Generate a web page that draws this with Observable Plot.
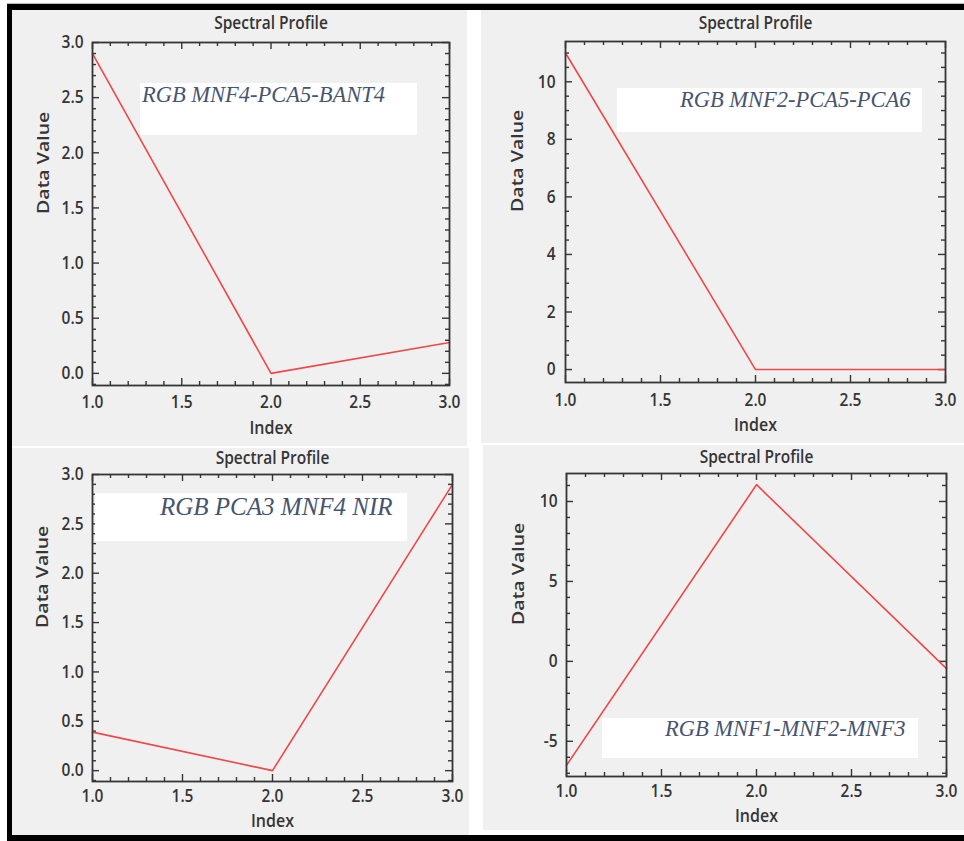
<!DOCTYPE html>
<html>
<head>
<meta charset="utf-8">
<script src="https://cdn.jsdelivr.net/npm/d3@7"></script>
<script src="https://cdn.jsdelivr.net/npm/@observablehq/plot@0.6"></script>
<style>
  html, body { margin: 0; padding: 0; background: #fff; }
  #page { position: relative; width: 964px; height: 841px; background: #fff; overflow: hidden; }
  .bar { position: absolute; background: #000; }
  .anno { position: absolute; background: #fff; }
  .anno span { position: absolute; white-space: nowrap; font-family: "Liberation Serif", "Times New Roman", serif;
               font-style: italic; line-height: 1; color: #46546f; }
</style>
</head>
<body>
<div id="page"></div>
<script>
// ---------- data ----------
const bandIndex = [1, 2, 3];
const profileMNF4_PCA5_BANT4 = [2.9, 0.0, 0.28];
const profileMNF2_PCA5_PCA6 = [11.0, 0.0, 0.0];
const profilePCA3_MNF4_NIR = [0.39, 0.0, 2.9];
const profileMNF1_MNF2_MNF3 = [-6.5, 11.05, -0.45];

const annotationLabels = ["RGB MNF4-PCA5-BANT4", "RGB MNF2-PCA5-PCA6", "RGB PCA3 MNF4 NIR", "RGB MNF1-MNF2-MNF3"];
const chartTitle = "Spectral Profile";
const xAxisLabel = "Index";
const yAxisLabel = "Data Value";

const xTicks = [1.0, 1.5, 2.0, 2.5, 3.0];
const yTicksFraction = [0.0, 0.5, 1.0, 1.5, 2.0, 2.5, 3.0];
const yTicksMNF2 = [0, 2, 4, 6, 8, 10];
const yTicksMNF1 = [-5, 0, 5, 10];

// ---------- layout ----------
const panels = [
  {values: profileMNF4_PCA5_BANT4, yDomain: [-0.11, 3.0], yTicks: yTicksFraction, yMinorStep: 0.1, yFmt: d => d.toFixed(1),
   left: 12, top: 10, width: 455, height: 436, ml: 80, mr: 18, mt: 32, mb: 61,
   titleDy: -19, xPad: 10, indexDy: 43, dvDx: -49, yPad: 9,
   box: {x: 140, y: 83, w: 277, h: 52, tx: 2, base: 103, fs: 22.5}},
  {values: profileMNF2_PCA5_PCA6, yDomain: [-0.45, 11.4], yTicks: yTicksMNF2, yMinorStep: 0.5, yFmt: d => d.toFixed(0),
   left: 481, top: 10, width: 483, height: 433, ml: 84, mr: 19, mt: 31, mb: 61,
   titleDy: -18, xPad: 11, indexDy: 43, dvDx: -48, yPad: 10,
   box: {x: 617, y: 88, w: 305, h: 44, tx: 63, base: 108, fs: 22.5}},
  {values: profilePCA3_MNF4_NIR, yDomain: [-0.11, 3.0], yTicks: yTicksFraction, yMinorStep: 0.1, yFmt: d => d.toFixed(1),
   left: 12, top: 448, width: 457, height: 387, ml: 80, mr: 17, mt: 26, mb: 54,
   titleDy: -16, xPad: 8, indexDy: 40, dvDx: -50, yPad: 9,
   box: {x: 95, y: 493, w: 312, h: 48, tx: 65, base: 515, fs: 25}},
  {values: profileMNF1_MNF2_MNF3, yDomain: [-7.2, 11.75], yTicks: yTicksMNF1, yMinorStep: 1, yFmt: d => d.toFixed(0),
   left: 483, top: 445, width: 481, height: 385, ml: 83, mr: 18, mt: 28, mb: 54,
   titleDy: -16, xPad: 8, indexDy: 40, dvDx: -48, yPad: 9,
   box: {x: 602, y: 718, w: 316, h: 40, tx: 63, base: 737, fs: 22.5}}
];

const INK = "#353535";
const MAJOR = 7, MINOR = 4;
const STRETCH = 1.15; // the source screenshot is stretched vertically

function minorTicks(domain, step, majors) {
  const lo = Math.ceil(domain[0] / step - 1e-9), hi = Math.floor(domain[1] / step + 1e-9);
  return d3.range(lo, hi + 1).map(k => +(k * step).toFixed(6))
    .filter(v => !majors.some(m => Math.abs(m - v) < 1e-9));
}

function stretchText(svg, k) {
  svg.querySelectorAll("text").forEach(t => {
    let tr = t.getAttribute("transform");
    if (!tr) {
      const x = +(t.getAttribute("x") || 0), y = +(t.getAttribute("y") || 0);
      t.removeAttribute("x"); t.removeAttribute("y");
      tr = `translate(${x},${y})`;
    }
    const rotated = /rotate\(\s*-?90/.test(tr);
    t.setAttribute("transform", tr + (rotated ? ` scale(${k},1)` : ` scale(1,${k})`));
  });
}

function makePanel(p) {
  const data = bandIndex.map((x, i) => ({index: x, value: p.values[i]}));
  const innerW = p.width - p.ml - p.mr;
  const innerH = p.height - p.mt - p.mb;
  const xDomain = [1, 3];
  const xMinor = minorTicks(xDomain, 0.1, xTicks);
  const yMajor = p.yTicks.filter(v => v >= p.yDomain[0] && v <= p.yDomain[1]);
  const yMinor = minorTicks(p.yDomain, p.yMinorStep, yMajor);
  const tickStyle = {stroke: INK, strokeWidth: 1.4};
  const svg = Plot.plot({
    width: p.width, height: p.height,
    marginLeft: p.ml, marginRight: p.mr, marginTop: p.mt, marginBottom: p.mb,
    style: {background: "#f0f0f0", fontFamily: "'Open Sans', sans-serif", fontSize: "15.5px", fontWeight: 600, color: INK, overflow: "visible"},
    x: {domain: xDomain},
    y: {domain: p.yDomain},
    marks: [
      // inward ticks on all four sides (IDL/ENVI style)
      Plot.tickY(yMajor, {y: d => d, insetRight: innerW - MAJOR, ...tickStyle}),
      Plot.tickY(yMinor, {y: d => d, insetRight: innerW - MINOR, ...tickStyle}),
      Plot.tickY(yMajor, {y: d => d, insetLeft: innerW - MAJOR, ...tickStyle}),
      Plot.tickY(yMinor, {y: d => d, insetLeft: innerW - MINOR, ...tickStyle}),
      Plot.tickX(xTicks, {x: d => d, insetTop: innerH - MAJOR, ...tickStyle}),
      Plot.tickX(xMinor, {x: d => d, insetTop: innerH - MINOR, ...tickStyle}),
      Plot.tickX(xTicks, {x: d => d, insetBottom: innerH - MAJOR, ...tickStyle}),
      Plot.tickX(xMinor, {x: d => d, insetBottom: innerH - MINOR, ...tickStyle}),
      Plot.axisX({ticks: xTicks, tickSize: 0, tickPadding: p.xPad, tickFormat: d => d.toFixed(1), label: null, fill: INK}),
      Plot.axisY({ticks: yMajor, tickSize: 0, tickPadding: p.yPad, tickFormat: p.yFmt, label: null, fill: INK}),
      Plot.line(data, {x: "index", y: "value", stroke: "#f04848", strokeWidth: 1.6}),
      Plot.frame({stroke: INK, strokeWidth: 1.8}),
      Plot.text([chartTitle], {frameAnchor: "top", dy: p.titleDy, lineAnchor: "middle", fontSize: 15.5, fontWeight: 600, fill: INK}),
      Plot.text([xAxisLabel], {frameAnchor: "bottom", dy: p.indexDy, lineAnchor: "middle", fontSize: 16, fontWeight: 600, fill: INK}),
      Plot.text([yAxisLabel], {frameAnchor: "left", dx: p.dvDx, rotate: -90, lineAnchor: "middle", fontSize: 17, fontWeight: 600, fill: INK})
    ]
  });
  stretchText(svg, STRETCH);
  svg.style.position = "absolute";
  svg.style.left = p.left + "px";
  svg.style.top = p.top + "px";
  return svg;
}

const page = document.getElementById("page");

// outer black frame of the figure
function bar(l, t, w, h, c) {
  const d = document.createElement("div");
  d.className = "bar";
  Object.assign(d.style, {left: l + "px", top: t + "px", width: w + "px", height: h + "px", background: c || "#000"});
  page.appendChild(d);
}

panels.forEach((p, i) => {
  page.appendChild(makePanel(p));
  const b = p.box;
  const box = document.createElement("div");
  box.className = "anno";
  Object.assign(box.style, {left: b.x + "px", top: b.y + "px", width: b.w + "px", height: b.h + "px"});
  const span = document.createElement("span");
  span.textContent = annotationLabels[i];
  Object.assign(span.style, {left: b.tx + "px", top: (b.base - b.y - 0.84 * b.fs) + "px", fontSize: b.fs + "px"});
  box.appendChild(span);
  page.appendChild(box);
});

bar(7, 3, 957, 1, "#bbbbbb");
bar(7, 4, 957, 6);
bar(7, 4, 5, 837);
bar(7, 835, 957, 6);
</script>
</body>
</html>
